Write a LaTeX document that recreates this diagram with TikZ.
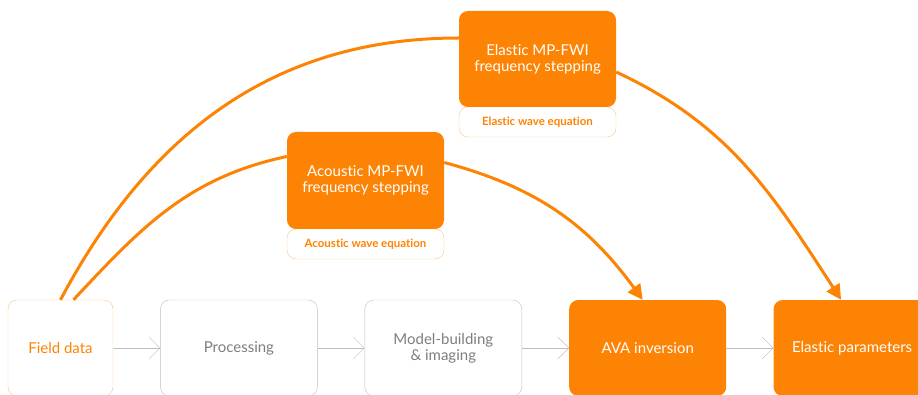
\documentclass[tikz,border=0pt]{standalone}
\usepackage{fontspec}
\setmainfont{Lato}[Ligatures=NoCommon]
\usetikzlibrary{arrows.meta,positioning}
\definecolor{fwiorange}{RGB}{253,131,4}
\definecolor{fwilight}{RGB}{250,196,140}
\definecolor{fwigrey}{RGB}{190,190,190}
\definecolor{fwitext}{RGB}{125,125,125}

\begin{document}
\begin{tikzpicture}[x=1pt,y=1pt,node distance=47pt,>=Latex]
\useasboundingbox (0,0) rectangle (918,394);
\clip (0,0) rectangle (918,394);
\tikzstyle{box}=[rounded corners=9pt,minimum width=157pt,minimum height=96pt,align=center,inner sep=0pt,font=\fontsize{15}{16}\selectfont]
\tikzstyle{greybox}=[box,draw=fwigrey,text=fwitext]
\tikzstyle{fullbox}=[box,fill=fwiorange,text=white]
\tikzstyle{eqbox}=[draw=fwilight,rounded corners=9pt,minimum width=157pt,minimum height=30pt,inner sep=0pt,text=fwiorange,font=\bfseries\fontsize{11.5}{13}\selectfont]
\tikzstyle{flow}=[draw=fwigrey,-{Straight Barb[length=11pt,width=22pt]}]
\tikzstyle{fwiline}=[draw=fwiorange,line width=3pt]
\tikzstyle{fwi}=[fwiline,-{Triangle[length=15pt,width=15pt]}]

% bottom row
\node[box,draw=fwilight,text=fwiorange,minimum width=105pt] (field) at (60.5,46) {Field data};
\node[greybox,right=of field] (proc) {Processing};
\node[greybox,right=of proc] (model) {Model-building\\\& imaging};
\node[fullbox,right=of model] (ava) {AVA inversion};
\node[fullbox,right=of ava] (elpar) {Elastic parameters};
\draw[flow] (field)--(proc); \draw[flow] (proc)--(model); \draw[flow] (model)--(ava); \draw[flow] (ava)--(elpar);

% MP-FWI branches
\node[eqbox] (acoueq) at (365.5,150) {Acoustic wave equation};
\node[fullbox,minimum height=97pt] (acou) at (365.5,213.5) {Acoustic MP-FWI\\frequency stepping};
\node[eqbox] (elaseq) at (537.5,272) {Elastic wave equation};
\node[fullbox] (elas) at (537.5,335) {Elastic MP-FWI\\frequency stepping};

\draw[fwiline] (field.north) to[out=62,in=180] ([yshift=21pt]elas.west);
\draw[fwiline] ([xshift=13pt]field.north) to[out=47,in=192] ([yshift=24pt]acou.west);
\draw[fwi] ([yshift=18pt]acou.east) to[out=-15,in=126] ([xshift=-5pt]ava.north);
\draw[fwi] ([yshift=-13pt]elas.east) to[out=-25,in=123] ([xshift=-11pt]elpar.north);
\end{tikzpicture}
\end{document}
